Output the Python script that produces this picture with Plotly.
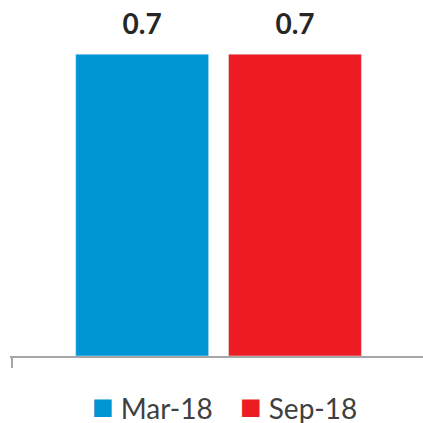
import plotly.graph_objects as go

# Data
series_names = ["Mar-18", "Sep-18"]
series_values = [0.7, 0.7]
series_colors = ["#0096D6", "#ED1C24"]
category = [""]

fig = go.Figure()

for name, val, color in zip(series_names, series_values, series_colors):
    fig.add_trace(go.Bar(
        x=category,
        y=[val],
        name=name,
        offsetgroup=name,
        marker_color=color,
        showlegend=False,
    ))
    # value labels, grouped the same way as the bars
    # (invisible marker just pushes the text up off the bar top)
    fig.add_trace(go.Scatter(
        x=category,
        y=[val],
        offsetgroup=name,
        mode="markers+text",
        text=[f"{val:.1f}"],
        textposition="top center",
        textfont=dict(family="Lato", size=28, color="#262626", weight="bold"),
        marker=dict(size=19, opacity=0),
        cliponaxis=False,
        showlegend=False,
        hoverinfo="skip",
    ))

# legend drawn as text (big square swatches like the original)
legend_x = [0.194, 0.552]
for name, color, lx in zip(series_names, series_colors, legend_x):
    fig.add_annotation(
        text=f"<span style='color:{color};font-size:36px'>■</span>\u2009\u2009{name}",
        x=lx, xref="paper", xanchor="left",
        y=-0.142, yref="paper", yanchor="middle",
        height=48,
        showarrow=False,
        font=dict(family="Lato", size=28, color="#404040"),
    )

fig.update_layout(
    width=423,
    height=423,
    margin=dict(l=10, r=0, t=11, b=67),
    barmode="group",
    scattermode="group",
    bargap=0.26,
    bargroupgap=0.13,
    plot_bgcolor="white",
    paper_bgcolor="white",
    font=dict(family="Lato", color="#404040"),
)

fig.update_xaxes(
    range=[-0.505, 0.495],
    showline=True, linecolor="#A6A6A6", linewidth=1.5,
    ticks="outside", tickson="boundaries", ticklen=10,
    tickcolor="#A6A6A6", tickwidth=1.5,
    showticklabels=False, showgrid=False, zeroline=False,
)
fig.update_yaxes(
    range=[0, 0.8], visible=False, showgrid=False,
)

fig.write_html("out.html", config={"displayModeBar": False},
               post_script="document.body.style.margin='0';")
